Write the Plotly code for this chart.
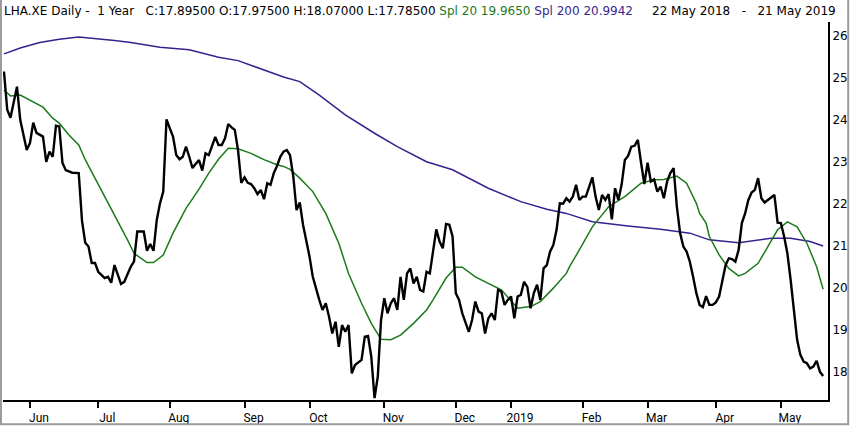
import pandas as pd
import plotly.graph_objects as go

# Xetra trading calendar for the year shown (22 May 2018 - 21 May 2019)
START, END = "2018-05-22", "2019-05-21"
holidays = ["2018-12-24", "2018-12-25", "2018-12-26", "2018-12-31",
            "2019-01-01", "2019-04-19", "2019-04-22", "2019-05-01"]
month_labels = ["Jun", "Jul", "Aug", "Sep", "Oct", "Nov", "Dec",
                "2019", "Feb", "Mar", "Apr", "May"]
y_ticks = [18, 19, 20, 21, 22, 23, 24, 25, 26]

# daily close (session number -> price)
close_sessions = [
    0, 1, 2, 3, 4, 5, 7, 8, 9, 10, 12, 13, 14, 15, 16, 17, 18, 19, 21, 23,
    24, 25, 26, 27, 28, 29, 31, 32, 33, 34, 35, 36, 37, 39, 40, 41, 43, 44, 45, 46,
    47, 48, 49, 50, 51, 52, 53, 54, 55, 56, 57, 58, 59, 60, 61, 62, 63, 64, 65, 66,
    67, 68, 69, 70, 71, 72, 73, 74, 75, 76, 77, 78, 79, 80, 81, 82, 83, 84, 85, 86,
    87, 88, 89, 90, 91, 92, 93, 94, 95, 96, 97, 98, 99, 100, 101, 102, 103, 104, 105, 106,
    107, 108, 110, 111, 112, 113, 114, 115, 116, 117, 118, 119, 120, 121, 122, 123, 124, 125, 126, 127,
    128, 129, 130, 131, 132, 133, 134, 135, 136, 137, 138, 139, 140, 141, 143, 144, 145, 146, 147, 148,
    149, 150, 151, 152, 153, 154, 155, 156, 157, 158, 159, 160, 161, 162, 163, 164, 165, 166, 167, 168,
    169, 170, 171, 172, 173, 174, 175, 176, 177, 178, 179, 180, 181, 182, 183, 184, 185, 186, 187, 188,
    189, 190, 191, 192, 193, 194, 195, 196, 197, 198, 199, 200, 201, 202, 203, 204, 205, 206, 207, 208,
    209, 210, 211, 212, 213, 214, 215, 216, 217, 218, 219, 220, 221, 222, 223, 224, 225, 226, 227, 228,
    229, 230, 231, 232, 233, 234, 235, 237, 238, 239, 240, 241, 242, 243, 244, 245, 246, 247, 248, 249,
    250, 251, 252,
]
close_values = [
    25.15, 24.24, 24.05, 24.40, 24.79, 24.00, 23.28, 23.45, 23.93, 23.69, 23.60, 23.00, 23.24, 23.12, 23.86, 23.84, 22.97, 22.80, 22.74, 22.73,
    21.60, 21.07, 20.98, 20.59, 20.59, 20.38, 20.23, 20.26, 20.12, 20.54, 20.30, 20.09, 20.14, 20.50, 20.62, 21.34, 21.34, 20.88, 21.04, 20.88,
    21.61, 22.01, 22.29, 24.01, 23.80, 23.60, 23.16, 23.06, 23.12, 23.36, 23.12, 22.85, 22.95, 23.04, 22.79, 23.20, 23.16, 23.36, 23.59, 23.40,
    23.40, 23.56, 23.90, 23.82, 23.76, 23.28, 22.50, 22.63, 22.50, 22.47, 22.37, 22.23, 22.33, 22.11, 22.49, 22.45, 22.73, 22.90, 23.12, 23.24,
    23.28, 23.16, 22.65, 21.85, 22.03, 21.50, 21.14, 20.74, 20.26, 19.95, 19.71, 19.47, 19.63, 19.31, 18.91, 19.19, 18.59, 19.11, 18.95, 19.11,
    17.96, 18.16, 18.28, 18.83, 18.85, 18.36, 17.37, 17.88, 19.23, 19.75, 19.39, 19.63, 19.75, 19.47, 20.26, 19.71, 20.34, 20.46, 20.10, 20.26,
    19.95, 19.91, 20.38, 20.34, 20.86, 21.39, 21.10, 20.94, 21.52, 21.50, 21.22, 19.87, 19.71, 19.39, 18.95, 19.23, 19.67, 19.43, 19.39, 18.91,
    19.27, 19.39, 19.23, 19.95, 19.91, 19.59, 19.71, 19.79, 19.27, 19.79, 19.83, 20.14, 20.02, 19.51, 19.87, 20.07, 19.71, 20.46, 20.54, 20.86,
    21.02, 21.38, 22.01, 22.00, 22.13, 22.05, 22.17, 22.45, 22.09, 22.17, 22.17, 22.41, 22.63, 22.17, 21.85, 22.21, 22.09, 22.23, 21.63, 22.37,
    22.09, 22.45, 23.04, 23.14, 23.36, 23.38, 23.52, 22.97, 22.47, 22.98, 22.53, 22.58, 22.29, 22.41, 22.13, 22.53, 22.73, 22.85, 21.93, 21.30,
    20.98, 20.86, 20.62, 20.26, 19.87, 19.59, 19.54, 19.80, 19.59, 19.59, 19.65, 19.79, 20.19, 20.54, 20.70, 20.68, 20.62, 20.90, 21.54, 21.77,
    22.09, 22.27, 22.33, 22.61, 22.13, 22.03, 22.09, 22.21, 21.55, 21.54, 21.22, 20.82, 20.19, 19.47, 18.76, 18.40, 18.24, 18.20, 18.08, 18.12,
    18.26, 18.00, 17.895,
]

# 20-day simple moving average
spl20_sessions = [0, 2, 5, 8, 12, 15, 17, 20, 23, 25, 28, 32, 35, 38, 40, 42, 44, 46, 49, 52,
                  56, 60, 63, 66, 69, 72, 76, 80, 84, 86, 88, 91, 95, 99, 103, 106, 110, 113, 116, 119,
                  122, 126, 128, 130, 132, 136, 139, 141, 145, 153, 158, 162, 165, 169, 173, 174, 177, 181, 186, 191,
                  196, 200, 203, 207, 210, 213, 214, 216, 217, 220, 223, 226, 228, 232, 235, 238, 241, 244, 247, 250, 252]
spl20_values = [24.71, 24.57, 24.59, 24.47, 24.30, 24.04, 23.92, 23.64, 23.40, 23.05, 22.61, 22.05, 21.61, 21.14, 20.82, 20.70, 20.60, 20.60, 20.78, 21.30,
                21.89, 22.35, 22.73, 23.06, 23.32, 23.31, 23.20, 23.05, 22.93, 22.89, 22.82, 22.61, 22.29, 21.77, 21.06, 20.34, 19.63, 19.15, 18.77, 18.76,
                18.87, 19.15, 19.31, 19.47, 19.71, 20.23, 20.49, 20.49, 20.26, 19.95, 19.51, 19.55, 19.67, 19.99, 20.34, 20.50, 20.90, 21.45, 21.93, 22.17,
                22.49, 22.57, 22.58, 22.66, 22.49, 22.01, 21.77, 21.54, 21.22, 20.78, 20.46, 20.28, 20.34, 20.58, 20.98, 21.38, 21.57, 21.45, 21.06, 20.50, 19.965]

# 200-day simple moving average
spl200_sessions = [0, 5, 11, 17, 23, 28, 34, 39, 43, 48, 57, 66, 72, 77, 83, 86, 91, 97, 105, 114,
                   121, 130, 138, 149, 159, 167, 173, 181, 192, 202, 211, 217, 226, 236, 242, 248, 252]
spl200_values = [25.57, 25.71, 25.84, 25.92, 25.97, 25.94, 25.89, 25.84, 25.79, 25.73, 25.67, 25.49, 25.41, 25.27, 25.11, 25.02, 24.91, 24.59, 24.12, 23.68,
                 23.36, 23.00, 22.81, 22.37, 22.05, 21.87, 21.77, 21.57, 21.47, 21.39, 21.30, 21.14, 21.07, 21.18, 21.18, 21.10, 20.9942]

GREEN = "#1b7a1b"
PURPLE = "#3a1f8e"
FONT = "DejaVu Sans"


def month_ticks():
    days = pd.bdate_range(START, END).difference(pd.to_datetime(holidays))
    idx = pd.Series(range(len(days)), index=days)
    firsts = idx.groupby([days.year, days.month]).first()
    return list(firsts.iloc[1:])


fig = go.Figure()
fig.add_trace(go.Scatter(x=spl200_sessions, y=spl200_values, mode="lines",
                         line=dict(color=PURPLE, width=1.5), name="Spl 200"))
fig.add_trace(go.Scatter(x=spl20_sessions, y=spl20_values, mode="lines",
                         line=dict(color=GREEN, width=1.5), name="Spl 20"))
fig.add_trace(go.Scatter(x=close_sessions, y=close_values, mode="lines",
                         line=dict(color="black", width=2.4), name="LHA.XE"))

header = ("LHA.XE Daily -&nbsp; 1 Year&nbsp;&nbsp; C:17.89500 O:17.97500 H:18.07000 L:17.78500 "
          f"<span style='color:{GREEN}'>Spl 20 19.9650</span> "
          f"<span style='color:{PURPLE}'>Spl 200 20.9942</span>")
fig.add_annotation(text=header, xref="paper", yref="paper", x=-0.001, y=1.029,
                   xanchor="left", yanchor="middle", showarrow=False,
                   font=dict(family=FONT, size=12, color="black"))
fig.add_annotation(text="22 May 2018&nbsp;&nbsp; -&nbsp;&nbsp; 21 May 2019",
                   xref="paper", yref="paper", x=1.0125, y=1.029,
                   xanchor="right", yanchor="middle", showarrow=False,
                   font=dict(family=FONT, size=12, color="black"))

# grey frame round the picture
fig.add_shape(type="path", xref="paper", yref="paper",
              path="M -0.0025,1.06 L -0.0025,-0.064 L 1.0245,-0.064 L 1.0245,1.06",
              line=dict(color="#9a9a9a", width=2))

fig.update_layout(
    width=850, height=427,
    margin=dict(l=3, r=22, t=22, b=27),
    paper_bgcolor="white", plot_bgcolor="white",
    showlegend=False,
    xaxis=dict(range=[-0.3, 253.5], tickvals=month_ticks(), ticktext=month_labels,
               showgrid=False, zeroline=False, showline=True, linecolor="black", linewidth=2,
               ticks="outside", ticklen=6, tickwidth=2, tickcolor="black",
               ticklabelshift=9, automargin=False,
               tickfont=dict(family="Liberation Sans Narrow, Roboto, sans-serif", size=12, color="black")),
    yaxis=dict(range=[17.325, 26.33], side="right", tickvals=y_ticks,
               showgrid=False, zeroline=False, showline=True, linecolor="black", linewidth=2,
               ticks="", automargin=False,
               tickfont=dict(family=FONT, size=12, color="black")),
)

# no page margin, so the 850x427 figure fills the window exactly
fig.write_html("out.html", config={"displayModeBar": False},
               post_script="document.body.style.margin='0';document.body.style.overflow='hidden';")
